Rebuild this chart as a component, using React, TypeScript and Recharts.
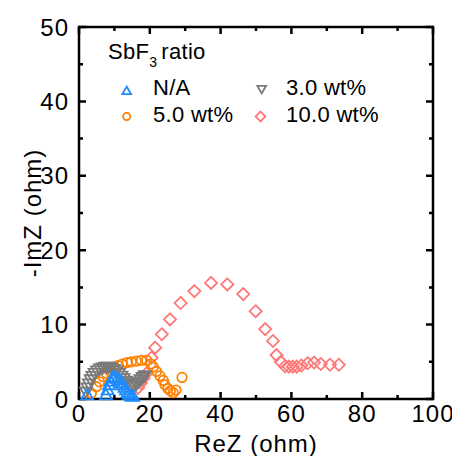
import { ScatterChart, Scatter, XAxis, YAxis, ReferenceArea } from 'recharts';

// N/A
const naX = [2.3, 7.6, 8.1, 8.5, 8.9, 9.5, 10.2, 10.9, 11.4, 12.0, 12.4, 12.9, 13.3, 13.7, 14.1, 14.7, 15.3];
const naY = [0.55, 0.55, 1.2, 1.9, 2.4, 2.8, 2.95, 2.8, 2.55, 2.2, 1.9, 1.55, 1.2, 0.85, 0.6, 0.4, 0.35];

// 3.0 wt%
const w3X = [2.0, 2.4, 2.8, 3.3, 3.8, 4.4, 5.1, 5.9, 6.7, 7.5, 8.3, 9.1, 9.9, 10.6, 11.3, 12.0, 12.6, 13.2, 13.8, 14.4, 15.0, 15.6, 16.2, 16.8, 17.4, 18.0, 18.6];
const w3Y = [0.95, 1.5, 2.05, 2.6, 3.05, 3.45, 3.8, 4.05, 4.2, 4.3, 4.3, 4.2, 4.0, 3.75, 3.45, 3.1, 2.75, 2.4, 2.1, 1.85, 1.7, 1.75, 2.0, 2.3, 2.6, 2.9, 3.15];

// 5.0 wt%
const w5X = [3.5, 4.9, 5.8, 6.8, 7.7, 8.7, 9.8, 11.0, 12.2, 13.6, 14.8, 16.2, 17.6, 19.1, 20.3, 21.0, 21.9, 22.9, 23.8, 24.3, 25.1, 25.8, 26.6, 27.4, 29.1];
const w5Y = [0.77, 1.65, 2.3, 3.0, 3.45, 3.9, 4.26, 4.5, 4.7, 4.9, 5.0, 5.1, 5.2, 5.2, 4.7, 4.3, 3.7, 3.1, 2.5, 1.9, 1.4, 1.1, 0.85, 1.2, 2.9];

// 10.0 wt%
const w10X = [16.7, 17.5, 18.2, 19.1, 20.5, 21.5, 23.4, 25.7, 28.7, 32.6, 37.3, 41.9, 46.4, 49.9, 52.6, 54.8, 55.8, 57.0, 58.2, 59.3, 60.4, 61.5, 62.8, 64.6, 66.4, 68.3, 70.9, 73.4];
const w10Y = [1.5, 2.15, 2.8, 3.45, 5.55, 6.9, 8.7, 10.7, 12.9, 14.5, 15.6, 15.4, 14.1, 11.8, 9.4, 7.8, 5.9, 5.0, 4.4, 4.35, 4.35, 4.35, 4.5, 4.8, 4.9, 4.7, 4.6, 4.6];

const xTicks = [0, 10, 20, 30, 40, 50, 60, 70, 80, 90, 100];
const yTicks = [0, 5, 10, 15, 20, 25, 30, 35, 40, 45, 50];

const toPoints = (xs: number[], ys: number[]) => xs.map((x, i) => ({ x, y: ys[i] }));

const BLUE = '#1E8CFF';
const GRAY = '#7A7A7A';
const ORANGE = '#FF8000';
const PINK = '#FF7878';
const FONT = '"Liberation Sans", Arial, sans-serif';
const SW = 1.8;
const TW = 2.5; // tick mark thickness

const triUp = (cx: number, cy: number, s: number, c: string) => (
  <path d={`M${cx},${cy - s * 0.55}L${cx - s * 0.55},${cy + s * 0.4}L${cx + s * 0.55},${cy + s * 0.4}Z`} fill="none" stroke={c} strokeWidth={SW} />
);
const triDown = (cx: number, cy: number, s: number, c: string) => (
  <path d={`M${cx},${cy + s * 0.55}L${cx - s * 0.55},${cy - s * 0.4}L${cx + s * 0.55},${cy - s * 0.4}Z`} fill="none" stroke={c} strokeWidth={SW} />
);
const circ = (cx: number, cy: number, s: number, c: string) => (
  <circle cx={cx} cy={cy} r={s * 0.45} fill="none" stroke={c} strokeWidth={SW} />
);
const diam = (cx: number, cy: number, s: number, c: string) => (
  <path d={`M${cx},${cy - s * 0.55}L${cx + s * 0.55},${cy}L${cx},${cy + s * 0.55}L${cx - s * 0.55},${cy}Z`} fill="none" stroke={c} strokeWidth={SW} />
);

// inward tick marks on opposite frame sides; the area spans the full plot along one axis
const vTick = (len: number) => (p: any) => {
  const x = Number(p.x);
  const top = Number(p.y);
  const bot = top + Number(p.height);
  return (
    <path d={`M${x - TW / 2},${bot}h${TW}v${-len}h${-TW}ZM${x - TW / 2},${top}h${TW}v${len}h${-TW}Z`} fill="#000" />
  );
};
const hTick = (len: number) => (p: any) => {
  const y = Number(p.y);
  const l = Number(p.x);
  const r = l + Number(p.width);
  return (
    <path d={`M${l},${y - TW / 2}h${len}v${TW}h${-len}ZM${r},${y - TW / 2}h${-len}v${TW}h${len}Z`} fill="#000" />
  );
};

const BottomTick = (props: any) => {
  const { x, y, payload } = props;
  if (payload.value % 20 !== 0) return <g />;
  return (
    <text x={x} y={y + 6} dy="0.71em" textAnchor="middle" fontSize={24} letterSpacing={1} fontFamily={FONT} fill="#000">
      {payload.value}
    </text>
  );
};

const LeftTick = (props: any) => {
  const { x, y, payload } = props;
  if (payload.value % 10 !== 0) return <g />;
  return (
    <text x={x - 10} y={y} dy="0.355em" textAnchor="end" fontSize={24} letterSpacing={1} fontFamily={FONT} fill="#000">
      {payload.value}
    </text>
  );
};

const XTitle = (props: any) => {
  const { x, y, width, height } = props.viewBox;
  return (
    <text x={x + width / 2} y={y + height - 4} textAnchor="middle" fontSize={24} letterSpacing={1} fontFamily={FONT} fill="#000">
      ReZ (ohm)
    </text>
  );
};

const YTitle = (props: any) => {
  const { x, y, height } = props.viewBox;
  const cx = x + 13;
  const cy = y + height / 2;
  return (
    <text x={cx} y={cy} dy="0.355em" transform={`rotate(-90 ${cx} ${cy})`} textAnchor="middle" fontSize={24} letterSpacing={1} fontFamily={FONT} fill="#000">
      -ImZ (ohm)
    </text>
  );
};

export default function App() {
  return (
    <div style={{ position: 'relative', width: 452, height: 448 }}>
      <ScatterChart width={452} height={448} margin={{ top: 19, right: 27, bottom: 0, left: 11 }}>
        <XAxis
          type="number"
          dataKey="x"
          domain={[0, 100]}
          ticks={xTicks}
          interval={0}
          height={57}
          tickSize={0}
          tickMargin={0}
          tickLine={false}
          axisLine={false}
          tick={<BottomTick />}
          label={<XTitle />}
        />
        <YAxis
          type="number"
          dataKey="y"
          domain={[0, 50]}
          ticks={yTicks}
          interval={0}
          width={60}
          tickSize={0}
          tickMargin={0}
          tickLine={false}
          axisLine={false}
          tick={<LeftTick />}
          label={<YTitle />}
        />
        <ReferenceArea x1={0} x2={100} y1={0} y2={50} fill="none" fillOpacity={0} stroke="#000" strokeWidth={2.5} ifOverflow="visible" />
        {xTicks.map((v) => (
          <ReferenceArea key={`xt${v}`} x1={v} x2={v} y1={0} y2={50} ifOverflow="visible" shape={vTick(v % 20 === 0 ? 7 : 4)} />
        ))}
        {yTicks.map((v) => (
          <ReferenceArea key={`yt${v}`} x1={0} x2={100} y1={v} y2={v} ifOverflow="visible" shape={hTick(v % 10 === 0 ? 7 : 4)} />
        ))}
        <Scatter name="10.0 wt%" data={toPoints(w10X, w10Y)} isAnimationActive={false}
          shape={(p: any) => diam(p.cx, p.cy, 11, PINK)} />
        <Scatter name="5.0 wt%" data={toPoints(w5X, w5Y)} isAnimationActive={false}
          shape={(p: any) => circ(p.cx, p.cy, 10.5, ORANGE)} />
        <Scatter name="3.0 wt%" data={toPoints(w3X, w3Y)} isAnimationActive={false}
          shape={(p: any) => triDown(p.cx, p.cy, 11, GRAY)} />
        <Scatter name="N/A" data={toPoints(naX, naY)} isAnimationActive={false}
          shape={(p: any) => triUp(p.cx, p.cy, 11, BLUE)} />
      </ScatterChart>
      <svg width={452} height={448} style={{ position: 'absolute', left: 0, top: 0, pointerEvents: 'none' }}>
        <text x={100} y={51} fontSize={22} letterSpacing={0.3} fontFamily={FONT} fill="#000">
          SbF<tspan fontSize={14} dy={8}>3</tspan><tspan dy={-8} dx={4}>ratio</tspan>
        </text>
        {triUp(118.7, 83, 8, BLUE)}
        <text x={145} y={87} fontSize={22} letterSpacing={0.3} fontFamily={FONT} fill="#000">N/A</text>
        {triDown(253.7, 81, 8, GRAY)}
        <text x={278} y={87} fontSize={22} letterSpacing={0.3} fontFamily={FONT} fill="#000">3.0 wt%</text>
        {circ(118.7, 108.5, 8, ORANGE)}
        <text x={145} y={113.5} fontSize={22} letterSpacing={0.3} fontFamily={FONT} fill="#000">5.0 wt%</text>
        {diam(252.5, 108.5, 9, PINK)}
        <text x={278} y={113.5} fontSize={22} letterSpacing={0.3} fontFamily={FONT} fill="#000">10.0 wt%</text>
      </svg>
    </div>
  );
}
